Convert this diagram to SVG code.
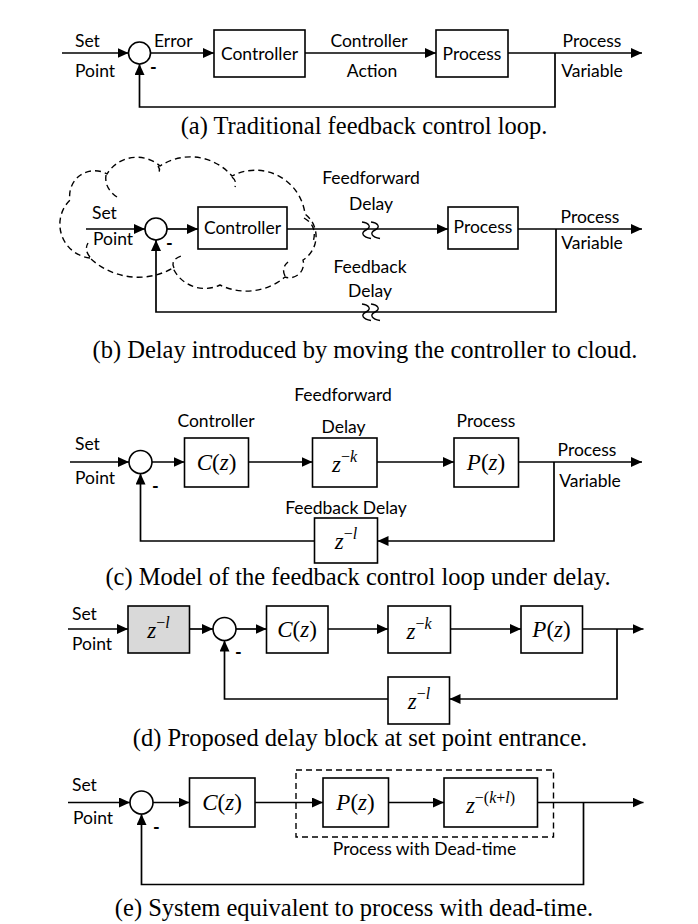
<svg xmlns="http://www.w3.org/2000/svg" width="698" height="924" viewBox="0 0 698 924">
<defs>
<marker id="ah" markerUnits="userSpaceOnUse" markerWidth="12" markerHeight="10" refX="11" refY="5" orient="auto">
<path d="M0,0 L11,5 L0,10 z" fill="#000"/>
</marker>
<path id="sq" d="M-4,-8 C3,-7 6,-3 0,0 C-6,3 -3,7 5,8.5" fill="none" stroke="#000" stroke-width="1.4"/>
</defs>
<style>
.ln{fill:none;stroke:#000;stroke-width:1.7}
.ar{fill:none;stroke:#000;stroke-width:1.7;marker-end:url(#ah)}
.bx{fill:#fff;stroke:#000;stroke-width:1.6}
.gb{fill:#d9d9d9;stroke:#000;stroke-width:1.6}
.ci{fill:#fff;stroke:#000;stroke-width:1.6}
.ds{fill:none;stroke:#000;stroke-width:1.4;stroke-dasharray:6,4}
.t{font-family:Lato,"Noto Sans",sans-serif;font-size:17.5px;fill:#000}
.c{text-anchor:middle}
.mn{font-family:Lato,sans-serif;font-size:18px;font-weight:bold;fill:#000}
.m{font-family:"Liberation Serif",serif;font-size:23px;fill:#000;text-anchor:middle}
.i{font-style:italic}
.s{font-size:16px}
.cap{font-family:"Liberation Serif","Times New Roman",serif;font-size:24.5px;fill:#000;text-anchor:middle}
</style>

<!-- ============ (a) ============ -->
<g id="a-sum"><circle class="ci" cx="139.5" cy="53" r="11"/><text class="mn" x="150" y="74">-</text></g>
<g id="a-controller"><rect class="bx" x="214" y="30" width="91" height="47"/><text class="t c" x="259.5" y="59.5">Controller</text></g>
<g id="a-process"><rect class="bx" x="436" y="30" width="72" height="47"/><text class="t c" x="472" y="59.5">Process</text></g>
<g id="a-labels">
<text class="t" x="75" y="47">Set</text><text class="t" x="75" y="77">Point</text>
<text class="t" x="154" y="47">Error</text>
<text class="t c" x="369" y="47">Controller</text><text class="t c" x="372" y="77">Action</text>
<text class="t c" x="592" y="47">Process</text><text class="t c" x="592" y="77">Variable</text>
</g>
<g id="a-connectors">
<path class="ar" d="M62,53 H128.5"/>
<path class="ar" d="M150.5,53 H214"/>
<path class="ar" d="M305,53 H436"/>
<path class="ar" d="M508,53 H642"/>
<path class="ar" d="M555,53 V107 H139.5 V64"/>
</g>
<text class="cap" x="364" y="134">(a) Traditional feedback control loop.</text>

<!-- ============ (b) ============ -->
<g id="b-cloud">
<path class="ds" d="M90,258 A34,34 0 0 1 70,200 A25,25 0 0 1 107,174 A35,35 0 0 1 160,166 A55,55 0 0 1 232,176 A50,50 0 0 1 305,214 A28,28 0 0 1 303,260 A14,14 0 0 1 285,277 A60,60 0 0 1 220,285 A35,35 0 0 1 173,268 A70,70 0 0 1 90,258 Z"/>
<path class="ds" d="M106,175 Q104,188 117,197"/>
<path class="ds" d="M158,166 q3,4 0,8"/>
<path class="ds" d="M232,177 Q237,181 235,187"/>
<path class="ds" d="M304,218 Q318,226 313,242"/>
<path class="ds" d="M285,276 Q281,268 288,262"/>
<path class="ds" d="M174,268 Q170,260 181,256"/>
<path class="ds" d="M90,257 Q84,250 88,243"/>
</g>
<g id="b-sum"><circle class="ci" cx="156" cy="229" r="11"/><text class="mn" x="166" y="250">-</text></g>
<g id="b-controller"><rect class="bx" x="198" y="207" width="89" height="42"/><text class="t c" x="242.5" y="234">Controller</text></g>
<g id="b-process"><rect class="bx" x="448" y="207" width="70" height="42"/><text class="t c" x="483" y="233">Process</text></g>
<g id="b-labels">
<text class="t" x="92" y="219">Set</text><text class="t" x="93" y="245">Point</text>
<text class="t c" x="371" y="184">Feedforward</text><text class="t c" x="371" y="210">Delay</text>
<text class="t c" x="590" y="223">Process</text><text class="t c" x="592" y="249">Variable</text>
<text class="t c" x="370" y="273">Feedback</text><text class="t c" x="370" y="297">Delay</text>
</g>
<g id="b-connectors">
<path class="ar" d="M86,229 H145"/>
<path class="ar" d="M167,229 H198"/>
<path class="ar" d="M287,229 H448"/>
<path class="ar" d="M518,229 H642"/>
<path class="ar" d="M556,229 V312 H156 V240"/>
<use href="#sq" x="366" y="230"/><use href="#sq" x="375" y="230"/>
<use href="#sq" x="366" y="312"/><use href="#sq" x="375" y="312"/>
</g>
<text class="cap" x="365" y="358">(b) Delay introduced by moving the controller to cloud.</text>

<!-- ============ (c) ============ -->
<g id="c-sum"><circle class="ci" cx="140.5" cy="462" r="11.5"/><text class="mn" x="152" y="493">-</text></g>
<g id="c-controller"><rect class="bx" x="184.5" y="438" width="64" height="49"/><text class="m" x="216.5" y="470"><tspan class="i">C</tspan>(<tspan class="i">z</tspan>)</text></g>
<g id="c-ffdelay"><rect class="bx" x="312.5" y="438" width="64.5" height="49"/><text class="m" x="344.5" y="472"><tspan class="i">z</tspan><tspan class="s" dy="-10">−</tspan><tspan class="s i">k</tspan></text></g>
<g id="c-process"><rect class="bx" x="454" y="438" width="64.5" height="49"/><text class="m" x="486" y="470"><tspan class="i">P</tspan>(<tspan class="i">z</tspan>)</text></g>
<g id="c-fbdelay"><rect class="bx" x="314.5" y="518" width="63" height="45"/><text class="m" x="346" y="549"><tspan class="i">z</tspan><tspan class="s" dy="-10">−</tspan><tspan class="s i">l</tspan></text></g>
<g id="c-labels">
<text class="t" x="75" y="450">Set</text><text class="t" x="75" y="484">Point</text>
<text class="t c" x="216" y="427">Controller</text>
<text class="t c" x="343" y="401">Feedforward</text><text class="t c" x="343.5" y="433">Delay</text>
<text class="t c" x="486" y="427">Process</text>
<text class="t c" x="587" y="456">Process</text><text class="t c" x="590" y="487">Variable</text>
<text class="t c" x="346" y="514">Feedback Delay</text>
</g>
<g id="c-connectors">
<path class="ar" d="M70,462 H129"/>
<path class="ar" d="M152,462 H184.5"/>
<path class="ar" d="M248.5,462 H312.5"/>
<path class="ar" d="M377,462 H454"/>
<path class="ar" d="M518.5,462 H642"/>
<path class="ar" d="M554,462 V541 H377.5"/>
<path class="ar" d="M314.5,541 H140.5 V473.5"/>
</g>
<text class="cap" x="358" y="585">(c) Model of the feedback control loop under delay.</text>

<!-- ============ (d) ============ -->
<g id="d-setdelay"><rect class="gb" x="128" y="606" width="61.5" height="47"/><text class="m" x="158.5" y="638"><tspan class="i">z</tspan><tspan class="s" dy="-10">−</tspan><tspan class="s i">l</tspan></text></g>
<g id="d-sum"><circle class="ci" cx="224.5" cy="629" r="11.5"/><text class="mn" x="235" y="659">-</text></g>
<g id="d-controller"><rect class="bx" x="266.5" y="606" width="61.5" height="47"/><text class="m" x="297" y="637"><tspan class="i">C</tspan>(<tspan class="i">z</tspan>)</text></g>
<g id="d-ffdelay"><rect class="bx" x="388" y="606" width="62.5" height="47"/><text class="m" x="419" y="639"><tspan class="i">z</tspan><tspan class="s" dy="-10">−</tspan><tspan class="s i">k</tspan></text></g>
<g id="d-process"><rect class="bx" x="521" y="606" width="61.5" height="47"/><text class="m" x="551.5" y="637"><tspan class="i">P</tspan>(<tspan class="i">z</tspan>)</text></g>
<g id="d-fbdelay"><rect class="bx" x="388" y="677" width="61.5" height="47"/><text class="m" x="419" y="709"><tspan class="i">z</tspan><tspan class="s" dy="-10">−</tspan><tspan class="s i">l</tspan></text></g>
<g id="d-labels"><text class="t" x="72" y="620">Set</text><text class="t" x="72" y="650">Point</text></g>
<g id="d-connectors">
<path class="ar" d="M68,629 H128"/>
<path class="ar" d="M189.5,629 H213"/>
<path class="ar" d="M236,629 H266.5"/>
<path class="ar" d="M328,629 H388"/>
<path class="ar" d="M450.5,629 H521"/>
<path class="ar" d="M582.5,629 H643.5"/>
<path class="ar" d="M617,629 V699 H449.5"/>
<path class="ar" d="M388,699 H224.5 V640.5"/>
</g>
<text class="cap" x="360" y="746">(d) Proposed delay block at set point entrance.</text>

<!-- ============ (e) ============ -->
<g id="e-deadtime"><rect class="ds" x="296" y="770" width="257.5" height="67"/><text class="t c" x="424.5" y="855">Process with Dead-time</text></g>
<g id="e-sum"><circle class="ci" cx="141.5" cy="802.5" r="11.5"/><text class="mn" x="153" y="834">-</text></g>
<g id="e-controller"><rect class="bx" x="189.5" y="778" width="65.5" height="49"/><text class="m" x="222" y="810"><tspan class="i">C</tspan>(<tspan class="i">z</tspan>)</text></g>
<g id="e-process"><rect class="bx" x="323" y="778" width="65.5" height="49"/><text class="m" x="355.5" y="810"><tspan class="i">P</tspan>(<tspan class="i">z</tspan>)</text></g>
<g id="e-delay"><rect class="bx" x="444" y="778" width="93.5" height="49"/><text class="m" x="490.5" y="813"><tspan class="i">z</tspan><tspan class="s" dy="-10">−(<tspan class="i">k</tspan>+<tspan class="i">l</tspan>)</tspan></text></g>
<g id="e-labels"><text class="t" x="72" y="791">Set</text><text class="t" x="73" y="824">Point</text></g>
<g id="e-connectors">
<path class="ar" d="M68,802.5 H130"/>
<path class="ar" d="M153,802.5 H189.5"/>
<path class="ar" d="M255,802.5 H323"/>
<path class="ar" d="M388.5,802.5 H444"/>
<path class="ar" d="M537.5,802.5 H643.5"/>
<path class="ar" d="M583.5,802.5 V884.5 H141.5 V814"/>
</g>
<text class="cap" x="354" y="916">(e) System equivalent to process with dead-time.</text>
</svg>
